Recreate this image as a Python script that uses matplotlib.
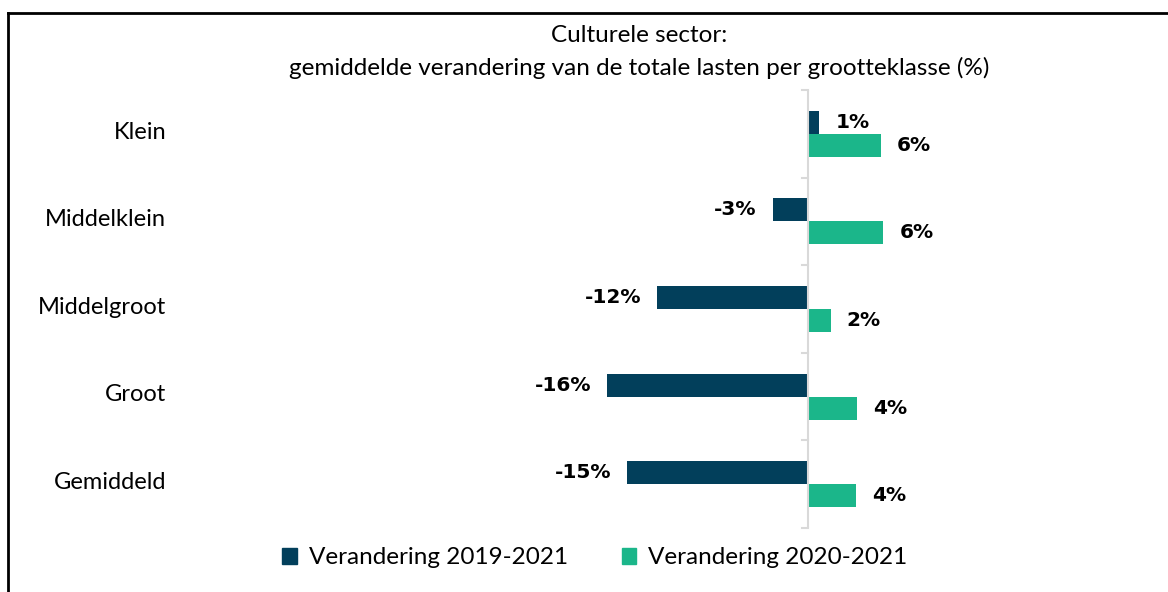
import matplotlib
matplotlib.use("Agg")
import matplotlib.pyplot as plt
from matplotlib.lines import Line2D
from matplotlib.patches import Rectangle
import matplotlib.transforms as mtransforms
import numpy as np

plt.rcParams['font.family'] = ['Lato', 'DejaVu Sans']

categories = ["Klein", "Middelklein", "Middelgroot", "Groot", "Gemiddeld"]
change_2019_2021 = [0.9, -2.8, -12.0, -16.0, -14.4]
change_2020_2021 = [5.8, 6.0, 1.8, 3.9, 3.8]
labels_2019_2021 = ["1%", "-3%", "-12%", "-16%", "-15%"]
labels_2020_2021 = ["6%", "6%", "2%", "4%", "4%"]
series_names = ["Verandering 2019-2021", "Verandering 2020-2021"]

dark = "#023F5B"
green = "#1BB68A"

W, H = 1168, 592
fig = plt.figure(figsize=(11.68, 5.92), dpi=100)

# axes placed in pixels: zero line at x=808, 12.56 px per %
ax_left, ax_right = 200, 1100
ax_top, ax_bottom = 90, 528
ax = fig.add_axes([ax_left / W, 1 - ax_bottom / H, (ax_right - ax_left) / W, (ax_bottom - ax_top) / H])
ppu = 12.56
ax.set_xlim(-(808 - ax_left) / ppu, (ax_right - 808) / ppu)
ax.set_ylim(len(categories) - 0.5, -0.5)

y = np.arange(len(categories))
h = 0.262
b1 = ax.barh(y - h / 2, change_2019_2021, height=h, color=dark)
b2 = ax.barh(y + h / 2, change_2020_2021, height=h, color=green)

for bars, labs in ((b1, labels_2019_2021), (b2, labels_2020_2021)):
    for bar, lab in zip(bars, labs):
        v = bar.get_width()
        yc = bar.get_y() + bar.get_height() / 2
        off = 11.5 if v >= 0 else -11.5
        ax.annotate(lab, xy=(v, yc), xytext=(off, 0), textcoords="offset points",
                    ha="left" if v >= 0 else "right", va="center",
                    fontsize=14.5, fontweight="bold", color="black", family="DejaVu Sans")

# axis line at zero with ticks at category boundaries
for s in ax.spines.values():
    s.set_visible(False)
ax.axvline(0, color="#D9D9D9", lw=1.5)
ax.set_xticks([])
ax.set_yticks([])
for b in np.arange(len(categories) + 1) - 0.5:
    ax.plot([-0.5, 0], [b, b], color="#D9D9D9", lw=1.5, clip_on=False)

trans = mtransforms.blended_transform_factory(fig.transFigure, ax.transData)
for i, c in enumerate(categories):
    ax.text(166 / W, i - 0.02, c, transform=trans, ha="right", va="center", fontsize=17)

fig.text(639 / W, 1 - 35 / H, "Culturele sector:", ha="center", va="center", fontsize=17.5)
fig.text(639 / W, 1 - 68 / H, "gemiddelde verandering van de totale lasten per grootteklasse (%)",
         ha="center", va="center", fontsize=17.5)

leg = fig.legend([Rectangle((0, 0), 1, 1, color=dark), Rectangle((0, 0), 1, 1, color=green)],
                 series_names, loc="center", bbox_to_anchor=(595 / W, 1 - 558 / H), ncol=2,
                 frameon=False, fontsize=17.5, handlelength=0.6, handleheight=0.6,
                 handletextpad=0.5, columnspacing=2.2)

# frame around chart
fig.add_artist(Line2D([8 / W, 8 / W], [0, 1 - 13 / H], color="black", lw=2, transform=fig.transFigure))
fig.add_artist(Line2D([8 / W, 1], [1 - 13 / H, 1 - 13 / H], color="black", lw=2, transform=fig.transFigure))

fig.savefig("out.png", dpi=100, facecolor="white")
